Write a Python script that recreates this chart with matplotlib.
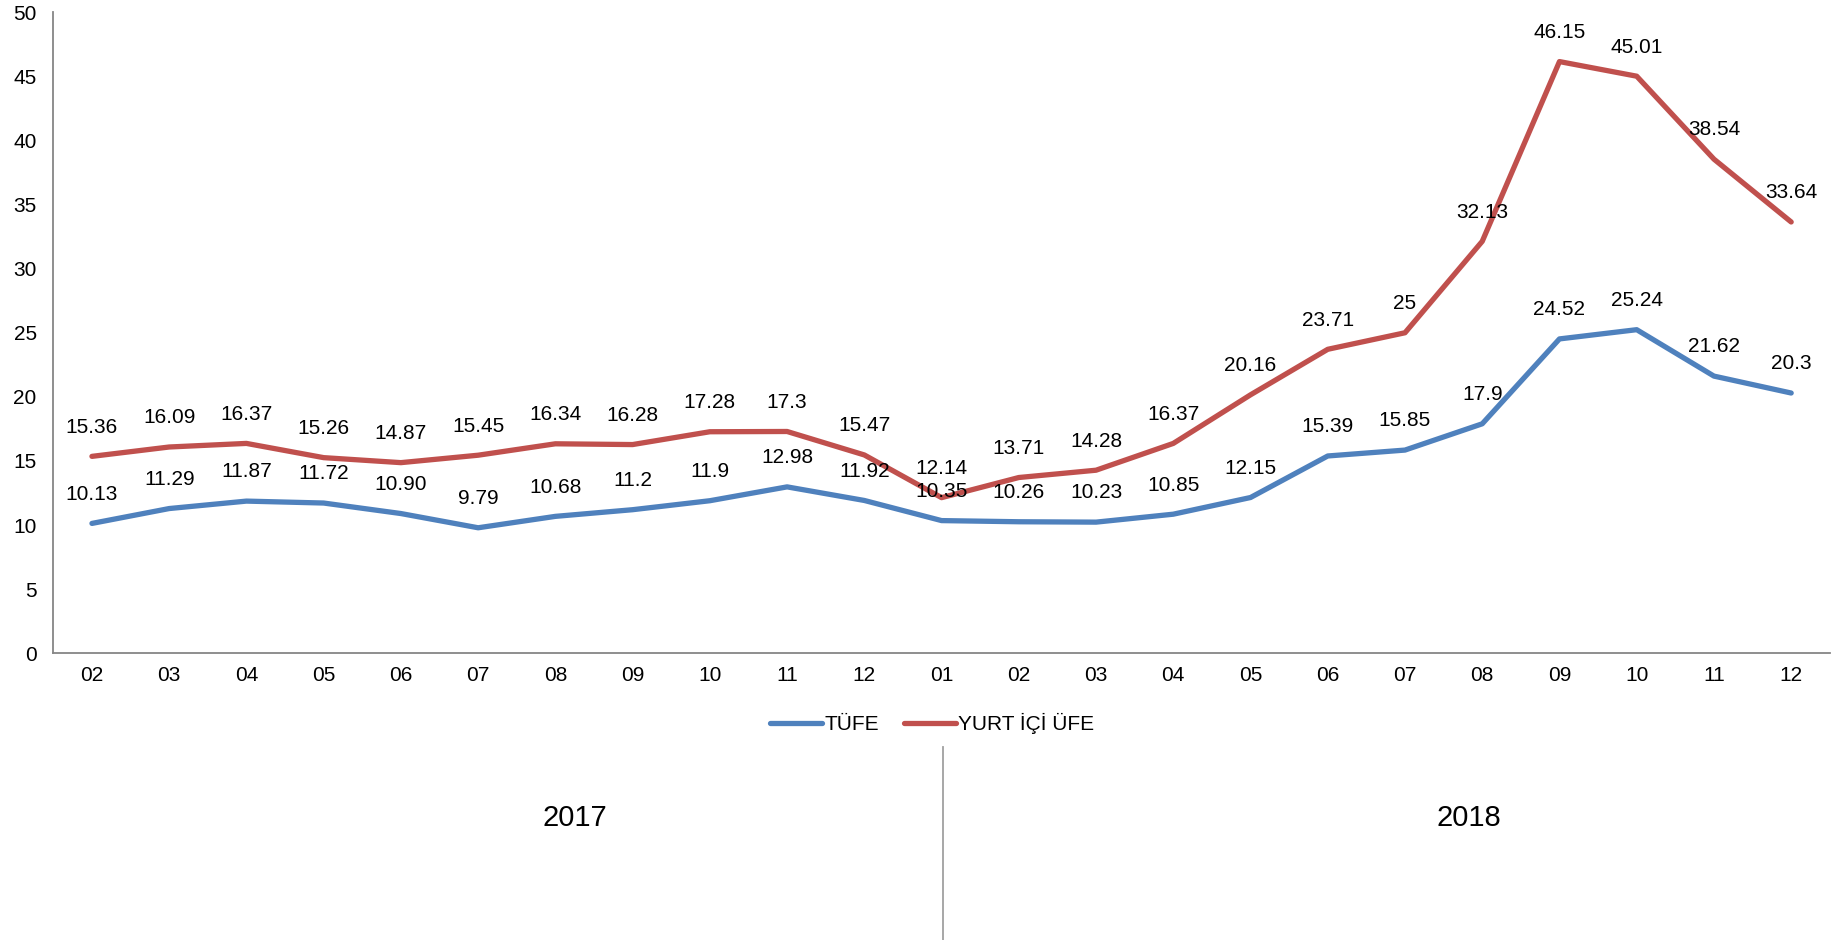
import matplotlib
matplotlib.use("Agg")
import matplotlib.pyplot as plt

plt.rcParams['font.family'] = ['Liberation Sans', 'DejaVu Sans']

# Veriler
aylar = ['02', '03', '04', '05', '06', '07', '08', '09', '10', '11', '12',
         '01', '02', '03', '04', '05', '06', '07', '08', '09', '10', '11', '12']
tufe = [10.13, 11.29, 11.87, 11.72, 10.90, 9.79, 10.68, 11.2, 11.9, 12.98, 11.92,
        10.35, 10.26, 10.23, 10.85, 12.15, 15.39, 15.85, 17.9, 24.52, 25.24, 21.62, 20.3]
tufe_etiket = ['10.13', '11.29', '11.87', '11.72', '10.90', '9.79', '10.68', '11.2', '11.9',
               '12.98', '11.92', '10.35', '10.26', '10.23', '10.85', '12.15', '15.39', '15.85',
               '17.9', '24.52', '25.24', '21.62', '20.3']
ufe = [15.36, 16.09, 16.37, 15.26, 14.87, 15.45, 16.34, 16.28, 17.28, 17.3, 15.47,
       12.14, 13.71, 14.28, 16.37, 20.16, 23.71, 25, 32.13, 46.15, 45.01, 38.54, 33.64]
ufe_etiket = ['15.36', '16.09', '16.37', '15.26', '14.87', '15.45', '16.34', '16.28', '17.28',
              '17.3', '15.47', '12.14', '13.71', '14.28', '16.37', '20.16', '23.71', '25',
              '32.13', '46.15', '45.01', '38.54', '33.64']
yillar = ['2017', '2018']

azul = '#4F81BD'
rojo = '#C0504D'
gris = '#868686'

fig = plt.figure(figsize=(18.39, 9.4), dpi=100)
ax = fig.add_axes([0.029, 0.305, 0.966, 0.682])

x = list(range(len(aylar)))
ax.plot(x, tufe, color=azul, lw=3.8, solid_capstyle='round', label='TÜFE')
ax.plot(x, ufe, color=rojo, lw=3.8, solid_capstyle='round', label='YURT İÇİ ÜFE')

# Etiketler
for xi, v, t in zip(x, tufe, tufe_etiket):
    ax.annotate(t, (xi, v), xytext=(0, 21), textcoords='offset points',
                ha='center', va='center', fontsize=15)
for xi, v, t in zip(x, ufe, ufe_etiket):
    ax.annotate(t, (xi, v), xytext=(0, 21), textcoords='offset points',
                ha='center', va='center', fontsize=15)

ax.set_xlim(-0.5, len(aylar) - 0.5)
ax.set_ylim(0, 50)
ax.set_yticks(range(0, 51, 5))
ax.set_xticks(x)
ax.set_xticklabels(aylar)
ax.tick_params(axis='both', length=0, labelsize=15, pad=9)
ax.tick_params(axis='y', pad=12)
for s in ['top', 'right']:
    ax.spines[s].set_visible(False)
for s in ['left', 'bottom']:
    ax.spines[s].set_color(gris)
    ax.spines[s].set_linewidth(1.3)

fig.legend(loc='center', bbox_to_anchor=(0.507, 0.23), ncol=2, frameon=False,
           fontsize=15, handlelength=2.5, handletextpad=0.1, columnspacing=1.2)

# Yil ayirici
fig.add_artist(plt.Line2D([0.513, 0.513], [0.0, 0.205], color='#A0A0A0', lw=1.3))
fig.text(0.3127, 0.13, yillar[0], ha='center', va='center', fontsize=21)
fig.text(0.799, 0.13, yillar[1], ha='center', va='center', fontsize=21)

fig.savefig('out.png', dpi=100, facecolor='white')
